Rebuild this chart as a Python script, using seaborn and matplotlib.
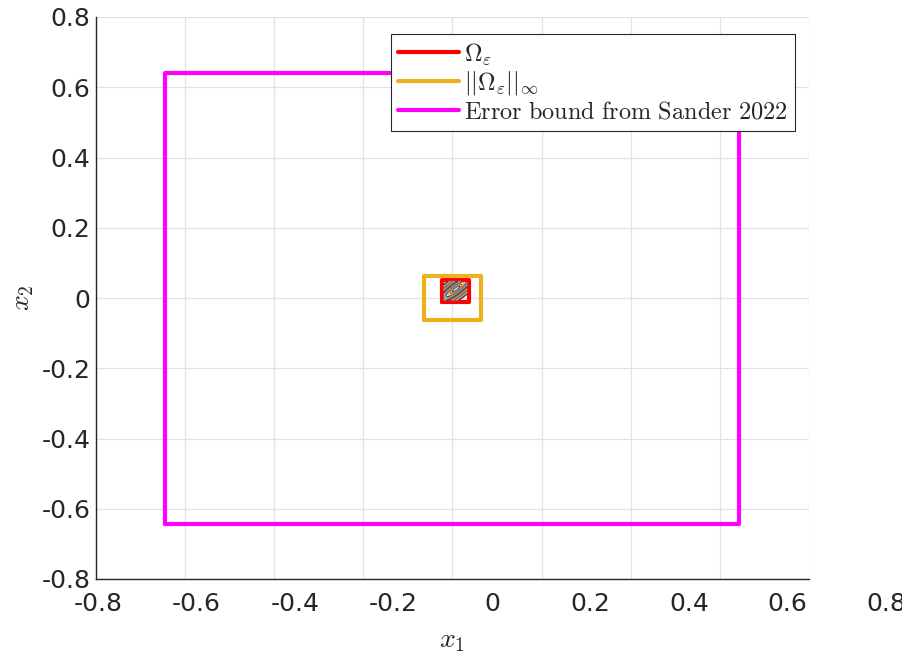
import numpy as np
import pandas as pd
import matplotlib
matplotlib.use("Agg")
import matplotlib.pyplot as plt
import matplotlib.transforms as mtransforms
import seaborn as sns

# ---------------- data ----------------
sander_x = [-0.645, 0.643]
sander_y = [-0.642, 0.640]
inf_x = [-0.063, 0.063]
inf_y = [-0.063, 0.062]
omega_x = [-0.023, 0.036]
omega_y = [-0.010, 0.051]
ell_center = [0.008, 0.026]
ell_quad = [[1.0, -0.85], [-0.85, 1.0]]
ell_levels = [2e-5, 5e-5, 9e-5, 1.4e-4, 2e-4, 2.7e-4, 3.5e-4, 4.5e-4,
              5.6e-4, 7e-4, 8.5e-4, 1.0e-3, 1.2e-3, 1.45e-3]
ell_colors = ['#0072BD', '#D95319', '#EDB120', '#7E2F8E', '#77AC30', '#4DBEEE', '#A2142F']
x_ticks = [-0.8, -0.6, -0.4, -0.2, 0, 0.2, 0.4, 0.6, 0.8]
x_tick_labels = ['-0.8', '-0.6', '-0.4', '-0.2', '0', '0.2', '0.4', '0.6', '0.8']
y_ticks = [-0.8, -0.6, -0.4, -0.2, 0, 0.2, 0.4, 0.6, 0.8]
y_tick_labels = ['-0.8', '-0.6', '-0.4', '-0.2', '0', '0.2', '0.4', '0.6', '0.8']
labels = [r'$\Omega_\varepsilon$', r'$||\Omega_\varepsilon||_\infty$',
          r'$\mathrm{Error\ bound\ from\ Sander\ 2022}$']

sns.set_style("whitegrid")
plt.rcParams['font.family'] = ['DejaVu Sans']
plt.rcParams['mathtext.fontset'] = 'cm'
plt.rcParams['axes.unicode_minus'] = False

fig = plt.figure(figsize=(9.03, 6.55), dpi=100)
ax = fig.add_axes([96 / 903, 1 - 579 / 655, 713 / 903, 562 / 655])


def rect(bx, by):
    return pd.DataFrame({'x': [bx[0], bx[1], bx[1], bx[0], bx[0]],
                         'y': [by[0], by[0], by[1], by[1], by[0]]})


lw = 3.0
for (bx, by), col, lab in zip([(omega_x, omega_y), (inf_x, inf_y), (sander_x, sander_y)],
                              ['#FF0000', '#EDB120', '#FF00FF'], labels):
    d = rect(bx, by)
    sns.lineplot(data=d, x='x', y='y', sort=False, estimator=None, color=col,
                 lw=lw, ax=ax, label=lab, zorder=3)

# contour ellipses inside Omega
gx = np.linspace(omega_x[0] + 0.003, omega_x[1] - 0.003, 300)
gy = np.linspace(omega_y[0] + 0.003, omega_y[1] - 0.003, 300)
GX, GY = np.meshgrid(gx, gy)
dx = GX - ell_center[0]
dy = GY - ell_center[1]
Q = ell_quad[0][0] * dx ** 2 + 2 * ell_quad[0][1] * dx * dy + ell_quad[1][1] * dy ** 2
cols = [ell_colors[i % len(ell_colors)] for i in range(len(ell_levels))]
ax.contour(GX, GY, Q, levels=ell_levels, colors=cols, linewidths=1.0, zorder=4)

ax.set_xlim(-0.8, 0.8)
ax.set_ylim(-0.8, 0.8)
ax.set_xticks(x_ticks)
ax.set_xticklabels([''] * len(x_ticks))
ax.set_yticks(y_ticks)
ax.set_yticklabels(y_tick_labels)

txtc = '#262626'
ax.tick_params(axis='both', direction='in', length=5, width=1, color=txtc,
               labelsize=18, labelcolor=txtc, pad=4)
for s in ['top', 'right']:
    ax.spines[s].set_visible(False)
for s in ['left', 'bottom']:
    ax.spines[s].set_color(txtc)
    ax.spines[s].set_linewidth(1.0)
ax.grid(True, color='#E2E2E2', lw=0.9)
ax.set_axisbelow(True)

# x tick labels as drawn in the reference (offset spacing, last one beyond the axis)
label_pos = lambda v: -0.7955 + 1.105 * (v + 0.8)
trans = mtransforms.blended_transform_factory(ax.transData, ax.transAxes)
for v, t in zip(x_ticks, x_tick_labels):
    ax.text(label_pos(v), -0.0225, t, transform=trans, ha='center', va='top',
            fontsize=18, color=txtc, clip_on=False)

ax.set_xlabel(r'$x_1$', fontsize=20, labelpad=30)
ax.set_ylabel(r'$x_2$', fontsize=20, labelpad=4)

leg = ax.legend(loc='upper right', bbox_to_anchor=(0.980, 0.970), borderaxespad=0,
                fontsize=17.5, handlelength=2.5, handletextpad=0.2, labelspacing=0.1,
                borderpad=0.3, fancybox=False, framealpha=1, edgecolor=txtc)
leg.get_frame().set_linewidth(0.8)
for l in leg.get_lines():
    l.set_linewidth(3.0)

fig.savefig('out.png', dpi=100)
